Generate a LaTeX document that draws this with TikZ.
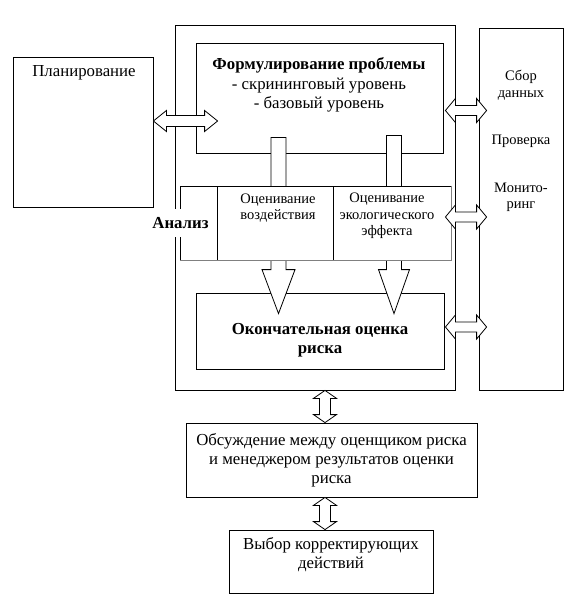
\documentclass[tikz,border=0pt]{standalone}
\usepackage{fontspec}
\setmainfont{Liberation Serif}
\usetikzlibrary{calc}

% block arrows: from, to, shaft half width, head half width, head length
\newcommand{\dblblock}[5]{\draw[blockarrow] (#1) -- ($(#1)!#5!(#2)!#4!90:(#2)$) -- ($(#1)!#5!(#2)!#3!90:(#2)$) -- ($(#2)!#5!(#1)!#3!-90:(#1)$) -- ($(#2)!#5!(#1)!#4!-90:(#1)$) -- (#2) -- ($(#2)!#5!(#1)!#4!90:(#1)$) -- ($(#2)!#5!(#1)!#3!90:(#1)$) -- ($(#1)!#5!(#2)!#3!-90:(#2)$) -- ($(#1)!#5!(#2)!#4!-90:(#2)$) -- cycle;}
\newcommand{\oneblock}[5]{\draw[blockarrow] ($(#1)!#3!90:(#2)$) -- ($(#2)!#5!(#1)!#3!-90:(#1)$) -- ($(#2)!#5!(#1)!#4!-90:(#1)$) -- (#2) -- ($(#2)!#5!(#1)!#4!90:(#1)$) -- ($(#2)!#5!(#1)!#3!90:(#1)$) -- ($(#1)!#3!-90:(#2)$) -- cycle;}

\begin{document}
\begin{tikzpicture}[x=1pt,y=-1pt]
    \tikzstyle{box} = [rectangle, draw=black, fill=white, line width=0.8pt, inner sep=0pt]
    \tikzstyle{txt} = [align=center, inner sep=1pt, font=\fontsize{16.8}{19.2}\selectfont]
    \tikzstyle{boldtxt} = [align=center, inner sep=1pt, font=\fontsize{16.8}{19.2}\selectfont\bfseries]
    \tikzstyle{small} = [align=center, inner sep=1pt, font=\fontsize{14.5}{16.5}\selectfont]
    \tikzstyle{blockarrow} = [draw=black, fill=white, line width=0.8pt, line join=miter]

    \useasboundingbox (0,0) rectangle (582,615);

    \node (frame) [box, minimum width=280, minimum height=365] at (315,207.5) {};
    \node (monitor) [box, minimum width=84, minimum height=362] at (521,209) {};
    \node (plan) [box, minimum width=140, minimum height=150] at (83,132) {};
    \node (form) [box, minimum width=247, minimum height=110] at (319.5,98) {};
    \node (final) [box, minimum width=248, minimum height=76] at (320,331) {};
    \node (disc) [box, txt, minimum width=291, minimum height=74] at (331.5,460) {Обсуждение между оценщиком риска\\и менеджером результатов оценки\\риска};
    \node (choice) [box, minimum width=204, minimum height=63] at (331,561.5) {};

    % arrows through the analysis block
    \coordinate (s1) at ($(form.south)+(-41,-16)$);
    \coordinate (e1) at ($(s1 |- final.north)+(0,21)$);
    \coordinate (s2) at ($(form.south)+(74.5,-18)$);
    \coordinate (e2) at ($(s2 |- final.north)+(0,21)$);
    \oneblock{s1}{e1}{7.5pt}{16.5pt}{44pt}
    \oneblock{s2}{e2}{7.5pt}{15.5pt}{44pt}

    \node (anal) [box, minimum width=271, minimum height=74] at (315.5,223) {};
    \node (impact) [box, minimum width=116, minimum height=74] at (275,223) {};
    \node (eco) [box, minimum width=118, minimum height=74] at (392,223) {};
    \draw [black!50, line width=1.6pt] (anal.north east) -- (anal.south east) -- (anal.south west);

    \node (plantxt) [txt] at (84,73) {Планирование};
    \node (formtxt) [txt] at (319,85) {\textbf{Формулирование проблемы}\\- скрининговый уровень\\- базовый уровень};
    \node (impacttxt) [small] at (278,208) {Оценивание\\воздействия};
    \node (ecotxt) [small] at (387,216) {Оценивание\\экологического\\эффекта};
    \node (analtxt) [boldtxt, fill=white, inner xsep=2pt, inner ysep=8pt] at (180.5,223) {Анализ};
    \node (finaltxt) [boldtxt] at (320,340) {Окончательная оценка\\риска};
    \node (choicetxt) [txt] at (331,555) {Выбор корректирующих\\действий};
    \node (datatxt) [small] at (521,85) {Сбор\\данных};
    \node (checktxt) [small] at (521,141) {Проверка};
    \node (montxt) [small] at (521,197.5) {Монито-\\ринг};

    \coordinate (p1) at ($(plan.east)+(0,-11)$);
    \coordinate (p2) at ($(form.west |- p1)+(22,0)$);
    \coordinate (r1a) at ($(form.east)+(2,12.5)$);
    \coordinate (r1b) at ($(monitor.west |- r1a)+(8,0)$);
    \coordinate (r2a) at ($(eco.east)+(-6,-6)$);
    \coordinate (r2b) at ($(monitor.west |- r2a)+(8,0)$);
    \coordinate (r3a) at ($(final.east)+(1,-4)$);
    \coordinate (r3b) at ($(monitor.west |- r3a)+(8,0)$);
    \coordinate (v1a) at ($(frame.south)+(10,0)$);
    \coordinate (v1b) at (v1a |- disc.north);
    \coordinate (v2a) at (v1a |- disc.south);
    \coordinate (v2b) at (v1a |- choice.north);

    \dblblock{p1}{p2}{5.5pt}{10.5pt}{13pt}
    \dblblock{r1a}{r1b}{5pt}{12pt}{10pt}
    \dblblock{r2a}{r2b}{5pt}{12pt}{10pt}
    \dblblock{r3a}{r3b}{5pt}{12pt}{10pt}
    \dblblock{v1a}{v1b}{5.5pt}{11.5pt}{8pt}
    \dblblock{v2a}{v2b}{5.5pt}{11.5pt}{8pt}
\end{tikzpicture}
\end{document}
